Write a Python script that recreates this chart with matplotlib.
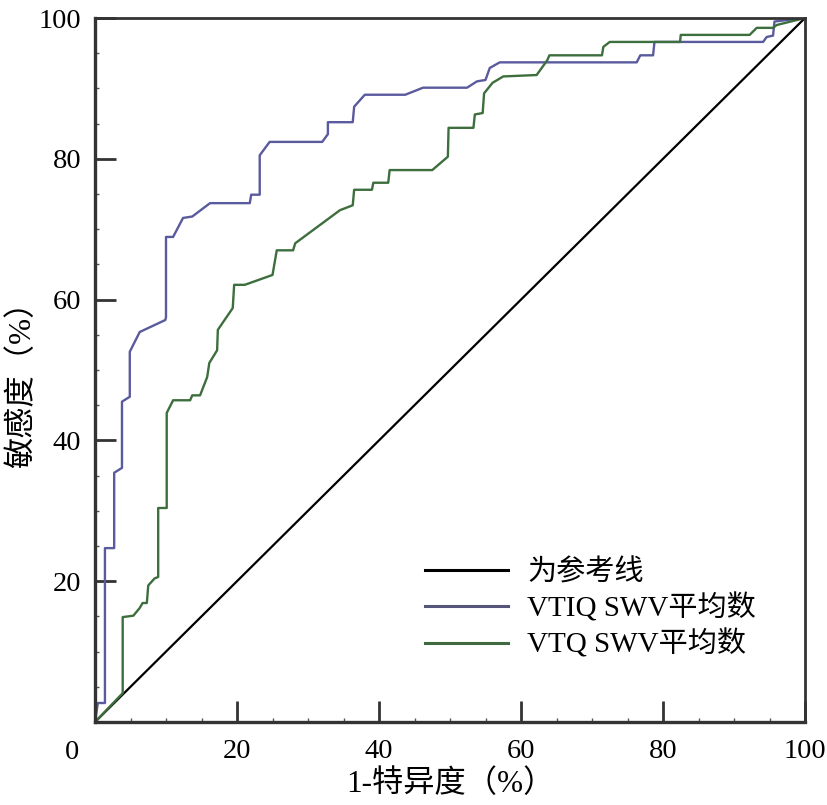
import numpy as np
import matplotlib
matplotlib.use("Agg")
import matplotlib.pyplot as plt
from matplotlib.ticker import MultipleLocator

plt.rcParams["font.family"] = ["Liberation Serif", "Noto Sans CJK SC", "DejaVu Sans"]
plt.rcParams["font.size"] = 20

# reference line
ref_x = [0, 100]
ref_y = [0, 100]

# VTIQ SWV mean (blue)
vtiq_x = [0, 0.4, 1.4, 1.4, 2.7, 2.7, 3.8, 3.8, 4.9, 4.9, 6.3, 9.9, 10.0, 10.0,
          11.0, 12.4, 13.7, 16.2, 21.8, 22.0, 23.2, 23.2, 24.6, 32.0, 32.8, 32.8,
          36.3, 36.5, 38.0, 43.7, 46.2, 52.4, 53.8, 55.0, 55.6, 57.0, 76.3, 76.8,
          78.6, 78.8, 94.1, 94.6, 95.5, 95.7, 100]
vtiq_y = [0, 2.7, 2.7, 24.7, 24.7, 35.4, 36.1, 45.5, 46.2, 52.6, 55.4, 57.1, 57.5, 68.9,
          68.9, 71.6, 71.8, 73.7, 73.7, 74.9, 74.9, 80.5, 82.4, 82.4, 83.5, 85.2,
          85.2, 87.4, 89.1, 89.1, 90.1, 90.1, 91.0, 91.2, 92.9, 93.7, 93.7, 94.7,
          94.7, 96.6, 96.6, 97.3, 97.5, 99.5, 100]

# VTQ SWV mean (green)
vtq_x = [0, 3.9, 3.9, 5.4, 6.3, 6.7, 7.3, 7.5, 8.4, 8.9, 8.9, 10.1, 10.1, 11.0,
         13.4, 13.7, 14.8, 15.8, 16.1, 17.2, 17.3, 19.4, 19.6, 21.1, 25.0, 25.6,
         27.9, 28.2, 34.5, 36.3, 36.5, 39.0, 39.2, 41.3, 41.5, 47.5, 49.7, 49.8,
         53.3, 53.5, 54.6, 54.8, 56.0, 57.5, 62.2, 63.7, 64.0, 71.4, 71.6, 72.5,
         82.4, 82.5, 92.2, 93.2, 95.5, 96.0, 100]
vtq_y = [0, 4.1, 14.9, 15.1, 16.2, 16.9, 16.9, 19.4, 20.4, 20.6, 30.4, 30.4, 43.9, 45.7,
         45.7, 46.4, 46.4, 49.0, 51.0, 52.8, 55.7, 58.8, 62.1, 62.1, 63.5, 67.0,
         67.0, 68.0, 72.7, 73.4, 75.6, 75.6, 76.6, 76.6, 78.4, 78.4, 80.3, 84.4,
         84.4, 86.3, 86.5, 89.3, 90.8, 91.7, 91.9, 94.0, 94.7, 94.7, 95.9, 96.6,
         96.6, 97.6, 97.6, 98.6, 98.6, 99.0, 100]

labels = ["为参考线", "VTIQ SWV平均数", "VTQ SWV平均数"]

fig = plt.figure(figsize=(8.27, 8.05), dpi=100)
ax = fig.add_axes([95 / 827, 1 - 722 / 805, 710 / 827, 704 / 805])

ax.plot(ref_x, ref_y, color="black", lw=1.6, label=labels[0])
ax.plot(vtiq_x, vtiq_y, color="#5a5a9e", lw=1.7, label=labels[1])
ax.plot(vtq_x, vtq_y, color="#3d6e3d", lw=1.7, label=labels[2])

ax.set_xlim(0, 100)
ax.set_ylim(0, 100)
ax.xaxis.set_minor_locator(MultipleLocator(5))
ax.yaxis.set_minor_locator(MultipleLocator(5))
ax.set_xticks([0, 20, 40, 60, 80, 100])
ax.set_xticklabels(["", "20", "40", "60", "80", "100"])
ax.set_yticks([0, 20, 40, 60, 80, 100])
ax.set_yticklabels(["", "20", "40", "60", "80", "100"])
ax.tick_params(which="major", direction="in", length=15, width=2, color="#333333")
ax.tick_params(which="minor", direction="in", length=3, width=1, color="#555555")
ax.tick_params(axis="x", pad=12, labelsize=20.5)
ax.tick_params(axis="y", pad=10, labelsize=20.5)
for s in ax.spines.values():
    s.set_color("#333333")
    s.set_linewidth(2)
ax.spines["left"].set_linewidth(2.4)
ax.spines["bottom"].set_linewidth(2.4)

ax.text(-23 / 710 * 100, -30 / 704 * 100, "0", ha="center", va="center", fontsize=20.5)

ax.set_xlabel("1-特异度（%）", fontsize=22.5, labelpad=4)
ax.set_ylabel("敏感度（%）", fontsize=22.5)
ax.yaxis.set_label_coords(-0.082, 0.49)

leg = ax.legend(loc="upper left", bbox_to_anchor=(425 / 827, 1 - 559 / 805),
                bbox_transform=fig.transFigure, frameon=False, fontsize=21,
                handlelength=2.85, handletextpad=0.65, labelspacing=0.24,
                borderpad=0, borderaxespad=0)
leg.get_lines()[1].set_color("#55557a")
leg.get_lines()[2].set_color("#3f6a40")
for ln in leg.get_lines():
    ln.set_linewidth(2.2)

fig.savefig("out.png", dpi=100)
